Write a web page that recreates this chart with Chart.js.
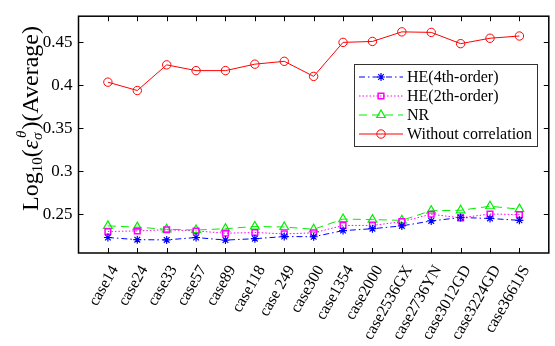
<!DOCTYPE html>
<html>
<head>
<meta charset="utf-8">
<script src="https://cdn.jsdelivr.net/npm/chart.js@4.4.1/dist/chart.umd.min.js"></script>
<style>
html,body{margin:0;padding:0;background:#fff;}
#wrap{width:555px;height:346px;position:relative;}
</style>
</head>
<body>
<div id="wrap"><canvas id="c" width="555" height="346"></canvas></div>
<script>
const categories = ['case14','case24','case33','case57','case89','case118','case 249','case300','case1354','case2000','case2536GX','case2736YN','case3012GD','case3224GD','case3661JS'];
const he4 = [0.223,0.2205,0.2202,0.223,0.220,0.2216,0.2241,0.2239,0.231,0.2332,0.2365,0.2422,0.2462,0.2451,0.2429];
const he2 = [0.230,0.2306,0.232,0.2306,0.228,0.2288,0.2272,0.2284,0.237,0.237,0.2414,0.250,0.2458,0.2503,0.2496];
const nr = [0.2365,0.235,0.2325,0.2317,0.2332,0.2358,0.2352,0.2325,0.2444,0.2438,0.2429,0.2541,0.2546,0.2593,0.2559];
const withoutCorr = [0.4034,0.3937,0.4235,0.4168,0.4168,0.4243,0.4276,0.4101,0.4496,0.4507,0.4618,0.4612,0.4481,0.4544,0.457];
const yTicks = [0.25,0.3,0.35,0.4,0.45];
const yTickLabels = ['0.25','0.3','0.35','0.4','0.45'];
const seriesNames = ['HE(4th-order)','HE(2th-order)','NR','Without correlation'];

const SERIF = '"Liberation Serif","Times New Roman",serif';
const toXY = arr => arr.map((v,i)=>({x:i+1,y:v}));

const styles = [
  {color:'#0000ff', dash:[6,3,1.5,3], point:'star', r:4, bw:1.2},
  {color:'#ff00ff', dash:[1.5,2], point:'rect', r:4, bw:1.5},
  {color:'#00ee00', dash:[8,5], point:'triangle', r:5, bw:1.2},
  {color:'#ff0000', dash:[], point:'circle', r:4.2, bw:1}
];
const allData = [he4,he2,nr,withoutCorr];

const datasets = allData.map((d,i)=>({
  label: seriesNames[i],
  data: toXY(d),
  borderColor: styles[i].color,
  backgroundColor: 'rgba(0,0,0,0)',
  borderWidth: 1,
  borderDash: styles[i].dash,
  pointStyle: styles[i].point,
  pointRadius: styles[i].r,
  pointBorderWidth: styles[i].bw,
  pointBorderColor: styles[i].color,
  pointBackgroundColor: 'rgba(0,0,0,0)',
  tension: 0
}));

const framePlugin = {
  id:'frame',
  afterDraw(chart){
    const ctx = chart.ctx, a = chart.chartArea;
    const xs = chart.scales.x, ys = chart.scales.y;
    ctx.save();
    ctx.strokeStyle = '#000';
    ctx.lineWidth = 1.5;
    ctx.setLineDash([]);
    ctx.strokeRect(a.left, a.top, a.right-a.left, a.bottom-a.top);
    ctx.lineWidth = 1;
    const tl = 5;
    ctx.beginPath();
    categories.forEach((c,i)=>{
      const x = Math.round(xs.getPixelForValue(i+1))+0.5;
      ctx.moveTo(x,a.bottom); ctx.lineTo(x,a.bottom-tl);
      ctx.moveTo(x,a.top); ctx.lineTo(x,a.top+tl);
    });
    yTicks.forEach(v=>{
      const y = Math.round(ys.getPixelForValue(v))+0.5;
      ctx.moveTo(a.left,y); ctx.lineTo(a.left+tl,y);
      ctx.moveTo(a.right,y); ctx.lineTo(a.right-tl,y);
    });
    ctx.stroke();

    // x labels (rotated)
    ctx.fillStyle='#000';
    ctx.font='16px '+SERIF;
    ctx.textAlign='right';
    ctx.textBaseline='middle';
    categories.forEach((c,i)=>{
      const x = xs.getPixelForValue(i+1);
      ctx.save();
      ctx.translate(x+7, a.bottom+14);
      ctx.rotate(-Math.PI/3);
      ctx.fillText(c,0,0);
      ctx.restore();
    });

    // legend
    const bx=354, by=64, bw=183, bh=82;
    ctx.fillStyle='#fff';
    ctx.fillRect(bx,by,bw,bh);
    ctx.strokeStyle='#333';
    ctx.lineWidth=1;
    ctx.strokeRect(bx+0.5,by+0.5,bw,bh);
    const rows=[77,96,115,134];
    seriesNames.forEach((name,i)=>{
      const y=rows[i], st=styles[i];
      ctx.strokeStyle=st.color;
      ctx.lineWidth=1;
      ctx.setLineDash(st.dash);
      ctx.beginPath(); ctx.moveTo(359,y); ctx.lineTo(403,y); ctx.stroke();
      ctx.setLineDash([]);
      ctx.lineWidth=st.bw;
      ctx.fillStyle='rgba(0,0,0,0)';
      Chart.helpers.drawPoint(ctx,{pointStyle:st.point,radius:st.r,rotation:0,borderWidth:st.bw},381,y);
      ctx.fillStyle='#000';
      ctx.font='16px '+SERIF;
      ctx.textBaseline='middle';
      ctx.textAlign='left';
      ctx.fillText(name,407,y+1);
    });

    // y title
    ctx.save();
    ctx.translate(38,211);
    ctx.rotate(-Math.PI/2);
    ctx.fillStyle='#000';
    ctx.textBaseline='alphabetic';
    ctx.textAlign='left';
    let x=0;
    const big='24px '+SERIF, small='15px '+SERIF, bigI='italic 24px '+SERIF, smallI='italic 15px '+SERIF;
    const seg=(t,f,dy)=>{ctx.font=f; ctx.fillText(t,x,dy); x+=ctx.measureText(t).width;};
    seg('Log',big,0);
    seg('10',small,4);
    seg('(',big,0);
    seg('\u03B5',bigI,0);
    ctx.font=smallI;
    const sx=x;
    ctx.fillText('\u03C3',sx,4);
    ctx.fillText('\u03B8',sx+2,-12);
    x = sx + Math.max(ctx.measureText('\u03C3').width, ctx.measureText('\u03B8').width+2)+1;
    seg(')(Average)',big,0);
    ctx.restore();
    ctx.restore();
  }
};

new Chart(document.getElementById('c'),{
  type:'line',
  data:{datasets},
  options:{
    responsive:false,
    animation:false,
    devicePixelRatio:1,
    layout:{padding:{top:6,right:1.5,left:0,bottom:0}},
    plugins:{legend:{display:false},tooltip:{enabled:false}},
    scales:{
      x:{
        type:'linear', min:0, max:16,
        grid:{display:false}, border:{display:false},
        afterBuildTicks(s){ s.ticks = categories.map((c,i)=>({value:i+1})); },
        afterFit(s){ s.height = 93; },
        ticks:{ display:false, callback:(v)=>categories[v-1] }
      },
      y:{
        type:'linear', min:0.205, max:0.48,
        grid:{display:false, drawTicks:false}, border:{display:false},
        afterBuildTicks(s){ s.ticks = yTicks.map(v=>({value:v})); },
        afterFit(s){ s.width = 78.5; },
        ticks:{
          padding:6, color:'#000', font:{family:SERIF,size:17},
          callback:(v)=>yTickLabels[yTicks.indexOf(v)] ?? ''
        }
      }
    }
  },
  plugins:[framePlugin]
});
</script>
</body>
</html>
